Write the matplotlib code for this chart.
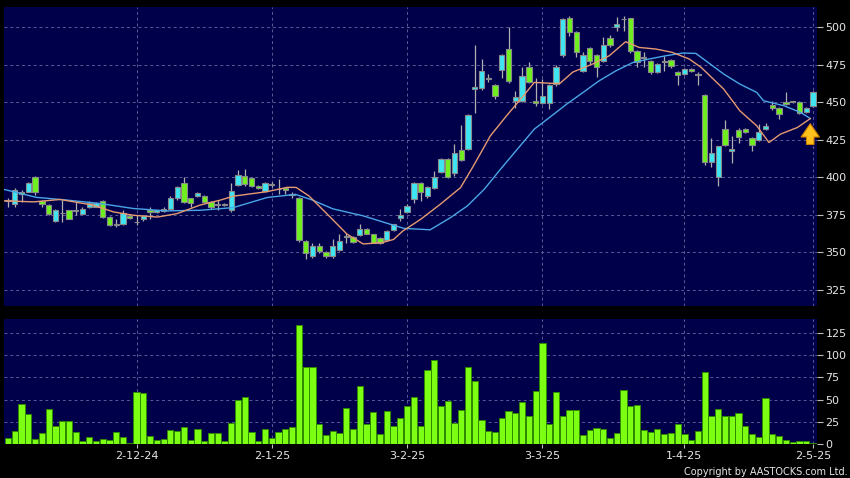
"""
    stock_chart

    Candlestick chart with 10/20 day moving averages and volume panel.
"""

import matplotlib
matplotlib.use("Agg")
import matplotlib.pyplot as plt
import numpy as np

# daily OHLC, Nov-2024 .. 2-May-2025
opens = [385, 382.5, 390.4, 390.4, 400, 384, 381.8, 371, 376.5, 378,
         378.5, 375.8, 380, 380.3, 384, 373.5, 368.6, 369, 374.5, 370,
         372, 378, 376.7, 377.6, 379, 386, 396, 386, 387.5, 387.4,
         383.6, 381.5, 381.5, 378, 394.8, 401, 399.8, 394, 391, 395.5,
         392, 392.6, 389, 386, 357.4, 347.3, 354, 350, 347.3, 351.8,
         360.5, 360, 361.5, 365.8, 362, 359.7, 357.9, 364.6, 372.8, 376.6,
         385.3, 396, 387.5, 393.1, 403.8, 412, 403.1, 418.2, 418.7, 459,
         459.1, 465.6, 461.3, 471.6, 485.3, 450.9, 450.9, 473.6, 450.9, 449.3,
         449.3, 462, 481.3, 505.8, 496.9, 470.9, 485.8, 481.3, 477.6, 492.4,
         499.8, 505, 505.8, 484.2, 480, 477.6, 470.2, 477.5, 478, 470.2,
         468.7, 472, 468, 455, 410.4, 400.4, 432.4, 417.3, 431.6, 432.4,
         426.2, 424.7, 432.4, 448.2, 446, 450.2, 450, 450.2, 443.1, 447.6]
highs = [386, 392.6, 391.5, 396.5, 400.5, 385, 382, 379, 385, 378.5,
         383.6, 380, 384, 383.5, 385, 374, 372, 378, 375.5, 374.7,
         375, 380, 378.5, 380, 387.4, 394, 400.4, 386.5, 390, 388,
         384, 384.7, 383, 396, 405, 405.4, 400, 394.5, 397, 397,
         399, 393, 390, 387, 358, 356, 356.5, 351, 359, 362,
         363, 361, 369.2, 366, 362.5, 360.5, 365, 369, 378.8, 382,
         396.5, 396.5, 394, 404.2, 413, 413, 422, 434.7, 442, 488,
         479, 468.7, 462, 482, 499.8, 457.5, 473.1, 476.9, 465.8, 465.3,
         462, 474.9, 506, 507, 497.5, 483.6, 486.5, 482, 493.1, 494.7,
         506.4, 507.5, 506, 485, 483.6, 478, 476, 480.9, 478.5, 471,
         472.5, 473, 469.8, 455.5, 426, 421, 438.2, 427.6, 433.1, 433,
         427, 435.3, 436, 450.9, 446.5, 456.4, 451, 451, 446.5, 457.6]
lows = [380.5, 380.3, 383.6, 390, 388, 380, 375, 370, 370, 372,
        375, 375.5, 379.5, 380, 373, 367.5, 367, 368, 372, 368,
        371, 372.5, 376, 377, 378.5, 385, 383, 380, 387, 383,
        379, 378, 381, 377, 394, 394, 393.5, 392, 390.5, 393.5,
        389, 389, 386.5, 357, 345.7, 346, 349.5, 346.5, 346.5, 351,
        356, 356, 361, 362, 356, 355.5, 357.5, 364, 371, 376,
        383, 384.2, 386, 392.5, 403, 399.5, 401, 410.5, 418, 443,
        458, 463.1, 452, 465.8, 463, 445.8, 450, 463, 447.1, 448.5,
        445.3, 461, 480, 493.8, 479.8, 470, 475.3, 466.4, 477, 487,
        497.6, 497, 483, 473.1, 473.1, 469, 469.5, 470.9, 473, 461.3,
        468, 470, 461.3, 408, 407.1, 394.2, 420.5, 409.8, 422.7, 429.5,
        417.6, 424, 431.5, 444.9, 439, 448, 449.5, 442, 442.5, 447]
closes = [384, 391.5, 388.6, 396, 390, 382, 375.8, 378, 376, 372.4,
          377.5, 379.1, 383, 382.9, 373.5, 368.5, 368.2, 376, 373, 370.5,
          374, 377, 378, 379.1, 386, 393.3, 383.6, 383, 389.7, 383.6,
          380.3, 382, 382.5, 391, 401.6, 395.5, 394.2, 393, 396, 394.5,
          392.5, 391.5, 388.5, 358, 349.6, 354, 350.7, 347.3, 354, 357.4,
          361, 357, 365.8, 362.4, 356.3, 356.3, 364.2, 368.7, 375, 381,
          396, 390.4, 393.5, 400.4, 412, 400.4, 416.4, 411.6, 441.5, 460,
          470.4, 466, 453.8, 481.3, 464.2, 453.1, 467.6, 463.6, 449.3, 453.8,
          461.5, 473.1, 505.3, 496.9, 483.6, 481.3, 477.6, 473.1, 488, 488,
          502, 505.3, 484.2, 476.4, 479.3, 470.2, 475.3, 476.5, 473.8, 468,
          472, 471, 468.3, 410.4, 416, 420.5, 421.3, 419.1, 427.1, 430.2,
          421.3, 430.4, 434.2, 446, 442, 448.7, 450.2, 442.7, 445.8, 456.9]
volumes = [7, 15, 45, 34, 6, 12, 39, 20, 26, 26,
           13, 3, 8, 3, 6, 5, 13, 8, 1, 59,
           57, 9, 5, 6, 16, 15, 19, 5, 17, 3,
           12, 12, 3, 24, 49, 53, 13, 3, 17, 7,
           14, 17, 19, 134, 87, 86, 23, 10, 15, 12,
           41, 17, 65, 22, 36, 11, 37, 20, 29, 43,
           53, 20, 83, 94, 43, 48, 24, 38, 87, 71,
           27, 15, 13, 29, 37, 35, 47, 31, 60, 114,
           22, 59, 32, 38, 38, 10, 16, 18, 17, 7,
           12, 61, 43, 44, 16, 14, 17, 11, 12, 22,
           11, 4, 15, 81, 32, 39, 31, 32, 35, 20,
           11, 8, 52, 11, 9, 5, 2, 3, 3, 1]

# moving averages as drawn (bar position, price)
ma10_x = [-0.6, 3.8, 7.7, 12.6, 15.6, 18.5, 22.1, 25, 28.4, 31.4, 33.3, 38.3,
          41.3, 42.6, 44.5, 47.4, 50.1, 52.5, 55.3, 57, 58.3, 61, 63.9, 66.9,
          68.8, 71.3, 73.7, 76.2, 77.8, 80.3, 81.6, 83.5, 86.4, 88.9, 91.3,
          93.3, 95.8, 98.2, 100.7, 102.5, 105.8, 108.2, 110.7, 112.5, 114.2,
          116.7, 118.6]
ma10_y = [384.3, 383.6, 385.2, 381.4, 376.9, 374.7, 373.5, 375.8, 381.5, 384.8,
          387.4, 390.4, 393.3, 393.2, 387.5, 374.5, 362.2, 355.6, 356.5, 358.6,
          364, 372, 382, 393.1, 407.5, 427.5, 440.9, 454.2, 463.1, 462.5,
          462.5, 470, 475.3, 480.9, 490.2, 486.4, 485.3, 483.1, 478.7, 473,
          458.7, 444.2, 434.2, 423.1, 428.7, 433.1, 439]
ma20_x = [-0.6, 4.2, 8.7, 13.6, 18.5, 23.5, 28.4, 33.3, 38.3, 42.5, 45, 48,
          52.5, 56.3, 58.5, 62.4, 65.4, 67.9, 70.4, 72.8, 75.3, 77.8, 80.2,
          82.6, 85, 87.4, 89.9, 92.4, 94.8, 97.3, 99.8, 101.7, 102.8, 105.8,
          108.2, 110.7, 111.7, 114.7, 117.2, 118.6]
ma20_y = [391.9, 386.6, 384.8, 382.5, 379.2, 377.6, 378, 379.8, 386.5, 388.6,
          384.8, 379, 374.3, 369, 366, 365, 373.1, 380.9, 392, 405.3,
          418.7, 432, 440.3, 448.7, 456.4, 464.2, 470.9, 476.4, 478.7, 480.9,
          482.7, 482.4, 478.7, 468.7, 462, 456.4, 450.9, 447.6, 443.1, 439.1]

date_ticks = [19, 39, 59, 79, 100, 119]
date_labels = ["2-12-24", "2-1-25", "3-2-25", "3-3-25", "1-4-25", "2-5-25"]
price_ticks = [325, 350, 375, 400, 425, 450, 475, 500]
vol_ticks = [0, 25, 50, 75, 100, 125]

BG = "#00004a"
GRID = "#5a5a96"
TXT = "#e6e6e6"
UP = "#3de6f2"
DOWN = "#6ef01e"

o = np.array(opens)
c = np.array(closes)
x = np.arange(len(o))

fig = plt.figure(figsize=(8.5, 4.78), dpi=100, facecolor="black")
ax = fig.add_axes([4 / 850, 1 - 306 / 478, 813 / 850, 299 / 478])
axv = fig.add_axes([4 / 850, 1 - 444 / 478, 813 / 850, 125 / 478])

for a in (ax, axv):
    a.set_facecolor(BG)
    for s in a.spines.values():
        s.set_visible(False)
    a.set_xlim(-0.6, 119.6)
    a.yaxis.tick_right()
    a.tick_params(axis="y", colors="#bdbdbd", labelcolor=TXT, length=4,
                  width=0.8, pad=2, labelsize=8)
    a.tick_params(axis="x", colors="#bdbdbd", labelcolor=TXT, length=3,
                  width=0.8, pad=2, labelsize=8)
    a.set_xticks(date_ticks)
    a.grid(True, color=GRID, linestyle=(0, (3, 3)), linewidth=0.7)
    a.set_axisbelow(True)

# price panel
ax.set_ylim(314.3, 513.3)
ax.set_yticks(price_ticks)
ax.set_xticklabels([])
ax.tick_params(axis="x", length=0)

ax.vlines(x, lows, highs, color="#b0b0b0", linewidth=0.9, zorder=2)
body_col = np.where(c >= o, UP, DOWN)
height = np.maximum(np.abs(c - o), 0.5)
ax.bar(x, height, bottom=np.minimum(o, c), width=0.78, color=body_col,
       edgecolor="#8a8a8a", linewidth=0.8, zorder=3)

ax.plot(ma20_x, ma20_y, color="#4aa6e6", linewidth=1.0, zorder=4)
ax.plot(ma10_x, ma10_y, color="#e59a70", linewidth=1.0, zorder=4)

# marker arrow under the last point
ax.annotate("", xy=(ma10_x[-1], ma10_y[-1] - 1.5),
            xytext=(ma10_x[-1], ma10_y[-1] - 19),
            arrowprops=dict(arrowstyle="simple,head_length=0.8,head_width=1.1,tail_width=0.45",
                            fc="#ffc21c", ec="#d08000", lw=0.8, mutation_scale=12),
            zorder=5)

# volume panel
axv.set_ylim(0, 140.5)
axv.set_yticks(vol_ticks)
axv.set_xticklabels(date_labels)
axv.bar(x, volumes, width=0.92, color="#7cff12", edgecolor="#2f8a00",
        linewidth=0.7, zorder=3)

fig.text(848 / 850, 1 - 472 / 478, "Copyright by AASTOCKS.com Ltd.",
         color=TXT, fontsize=7, ha="right", va="center")

fig.savefig("out.png", dpi=100, facecolor="black")
